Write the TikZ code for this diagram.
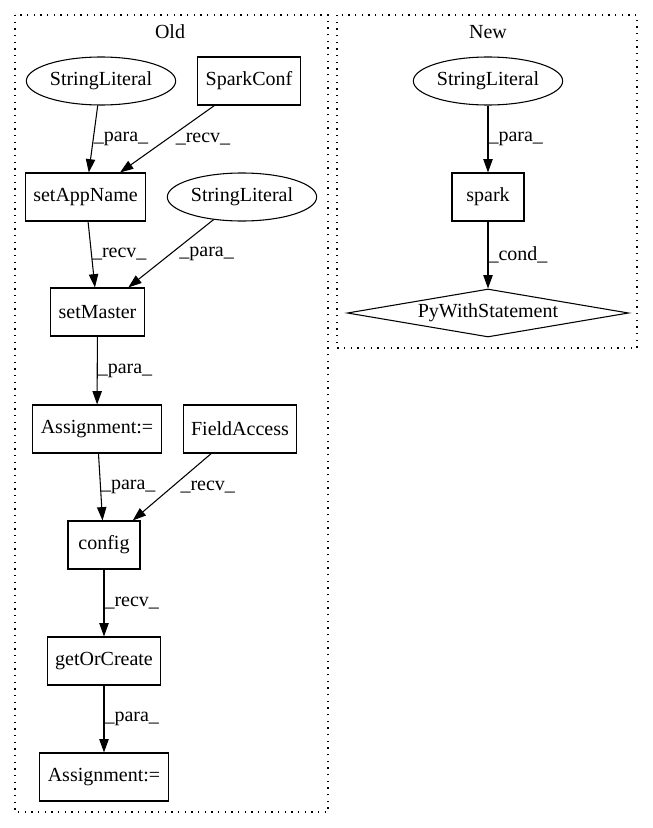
\documentclass[tikz,border=0pt]{standalone}
\usepackage{fontspec}
\setmainfont{Liberation Serif}
\usetikzlibrary{arrows.meta,shapes.geometric,positioning}

\begin{document}
\begin{tikzpicture}[x=0.75pt,y=-0.75pt,
  font=\fontsize{15}{17}\selectfont,
  box/.style={draw,line width=0.8pt,rectangle,minimum height=36pt,minimum width=54pt,inner xsep=6pt},
  lit/.style={draw,line width=0.8pt,ellipse,inner sep=0pt,minimum height=36pt,minimum width=112pt},
  cond/.style={draw,line width=0.8pt,diamond,aspect=6,inner sep=0pt,minimum width=211pt,minimum height=36pt},
  flow/.style={-{Triangle[length=10pt,width=7pt]},line width=0.8pt},
  lbl/.style={anchor=west,inner sep=0pt},
  cluster/.style={dash pattern=on 1pt off 4pt,line width=0.8pt}]
\useasboundingbox (0,0) rectangle (653,828);

% clusters
\draw[cluster] (15,15) rectangle (328,812);
\draw[cluster] (337,15) rectangle (637,348);
\node (oldtitle) at (170,32) {Old};
\node (newtitle) at (488,32) {New};

% old
\node[lit] (strlit1) at (101,81) {StringLiteral};
\node[box] (sparkconf) at (249,81) {SparkConf};
\node[box] (setappname) at (85.5,197) {setAppName};
\node[lit] (strlit2) at (242,197) {StringLiteral};
\node[box] (setmaster) at (97.5,312) {setMaster};
\node[box] (assign1) at (97,429) {Assignment:=};
\node[box] (fieldaccess) at (240,429) {FieldAccess};
\node[box] (config) at (104,545) {config};
\node[box] (getorcreate) at (104,661) {getOrCreate};
\node[box] (assign2) at (104,777) {Assignment:=};

\draw[flow] (strlit1) -- node[lbl,midway] {\_para\_} (setappname);
\draw[flow] (sparkconf) -- node[lbl,midway,xshift=6pt] {\_recv\_} (setappname);
\draw[flow] (setappname) -- node[lbl,midway] {\_recv\_} (setmaster);
\draw[flow] (strlit2) -- node[lbl,midway,xshift=6pt] {\_para\_} (setmaster);
\draw[flow] (setmaster) -- node[lbl,midway] {\_para\_} (assign1);
\draw[flow] (assign1) -- node[lbl,midway] {\_para\_} (config);
\draw[flow] (fieldaccess) -- node[lbl,midway,xshift=6pt] {\_recv\_} (config);
\draw[flow] (config) -- node[lbl,midway] {\_recv\_} (getorcreate);
\draw[flow] (getorcreate) -- node[lbl,midway] {\_para\_} (assign2);

% new
\node[lit] (strlit3) at (488,81) {StringLiteral};
\node[box] (spark) at (488,197) {spark};
\node[cond] (pywith) at (488,313) {PyWithStatement};

\draw[flow] (strlit3) -- node[lbl,midway] {\_para\_} (spark);
\draw[flow] (spark) -- node[lbl,midway] {\_cond\_} (pywith);
\end{tikzpicture}
\end{document}
